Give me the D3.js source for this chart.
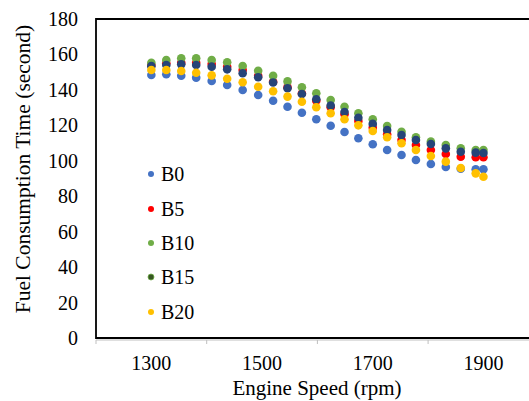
<!DOCTYPE html>
<html>
<head>
<meta charset="utf-8">
<script src="https://cdn.jsdelivr.net/npm/d3@7"></script>
<style>
  html, body { margin: 0; padding: 0; background: #fff; }
  svg { display: block; font-family: "Liberation Serif", "Times New Roman", serif; }
</style>
</head>
<body>
<div id="chart"></div>
<script>
// engine speed (rpm) for each measurement
const rpm = [1300, 1327, 1354, 1381, 1409, 1437, 1465, 1493, 1520, 1546, 1572, 1598,
             1624, 1649, 1674, 1700, 1726, 1752, 1778, 1805, 1832, 1859, 1886, 1900];

const seriesNames = ["B0", "B5", "B10", "B15", "B20"];

const b0 = [148.4, 148.8, 148.0, 146.9, 145.0, 142.8, 139.9, 137.1, 133.9, 130.5, 127.1, 123.4,
            119.8, 116.2, 112.7, 109.3, 106.1, 103.3, 100.4, 98.2, 96.5, 95.5, 95.2, 95.2];
const b5 = [154.0, 155.0, 155.3, 155.3, 154.6, 153.1, 151.2, 148.0, 144.6, 141.5, 138.0, 133.9,
            130.2, 126.2, 122.4, 118.7, 114.9, 111.7, 108.9, 106.1, 103.8, 102.3, 102.0, 102.0];
const b10 = [155.3, 156.9, 157.8, 157.8, 156.9, 155.6, 153.5, 150.8, 148.0, 144.8, 141.5, 138.1,
             134.3, 130.5, 126.8, 123.4, 119.6, 116.4, 113.3, 110.8, 108.9, 107.0, 106.1, 106.1];
const b15 = [153.4, 154.0, 154.4, 154.0, 153.1, 151.6, 149.4, 147.1, 144.2, 140.9, 137.7, 134.7,
             131.1, 127.5, 124.3, 120.8, 117.4, 114.5, 111.7, 109.5, 107.0, 105.1, 104.6, 104.4];
const b20 = [151.2, 151.2, 150.7, 149.7, 148.2, 146.3, 144.3, 141.8, 139.2, 136.2, 133.3, 130.2,
             126.8, 123.4, 120.0, 116.8, 113.3, 109.9, 106.1, 102.7, 99.5, 95.9, 92.9, 91.0];

const yTicks = [0, 20, 40, 60, 80, 100, 120, 140, 160, 180];
const xTickMarks = [1200, 1400, 1600, 1800, 2000];
const xTickLabels = [1300, 1500, 1700, 1900];

const allValues = [b0, b5, b10, b15, b20];
const pointColors = ["#4472C4", "#FF0000", "#70AD47", "#264478", "#FFC000"];
const legendColors = ["#4472C4", "#FF0000", "#70AD47", "#375623", "#FFC000"];

const W = 529, H = 401;
const svg = d3.select("#chart").append("svg")
    .attr("width", W)
    .attr("height", H);

const x = d3.scaleLinear().domain([1200, 2000]).range([96, 538.8]);
const y = d3.scaleLinear().domain([0, 180]).range([338, 19]);

// axis line + ticks below the plot frame
svg.append("line")
    .attr("x1", x(1200)).attr("x2", W)
    .attr("y1", y(0) + 2).attr("y2", y(0) + 2)
    .attr("stroke", "#bfbfbf").attr("stroke-width", 1);

svg.selectAll(".xtick")
    .data(xTickMarks)
    .enter().append("line")
    .attr("x1", d => x(d)).attr("x2", d => x(d))
    .attr("y1", y(0) + 2).attr("y2", y(0) + 6)
    .attr("stroke", "#bfbfbf").attr("stroke-width", 1);

// plot frame (left, top, bottom)
svg.append("path")
    .attr("d", `M${W},${y(180)} H${x(1200)} V${y(0)} H${W}`)
    .attr("fill", "none")
    .attr("stroke", "#000")
    .attr("stroke-width", 1.8);

// y tick labels
svg.selectAll(".ylab")
    .data(yTicks)
    .enter().append("text")
    .attr("x", 78)
    .attr("y", d => y(d) + 7)
    .attr("text-anchor", "end")
    .attr("font-size", "20px")
    .attr("fill", "#000")
    .text(d => d);

// x tick labels
svg.selectAll(".xlab")
    .data(xTickLabels)
    .enter().append("text")
    .attr("x", d => x(d))
    .attr("y", 370)
    .attr("text-anchor", "middle")
    .attr("font-size", "20px")
    .attr("fill", "#000")
    .text(d => d);

// axis titles
svg.append("text")
    .attr("x", 317)
    .attr("y", 395)
    .attr("text-anchor", "middle")
    .attr("font-size", "21px")
    .attr("fill", "#000")
    .text("Engine Speed (rpm)");

svg.append("text")
    .attr("transform", "translate(30,169) rotate(-90)")
    .attr("text-anchor", "middle")
    .attr("font-size", "21.5px")
    .attr("fill", "#000")
    .text("Fuel Consumption Time (second)");

// points, drawn in series order
allValues.forEach((vals, i) => {
    svg.append("g")
        .selectAll("circle")
        .data(vals)
        .enter().append("circle")
        .attr("cx", (d, j) => x(rpm[j]))
        .attr("cy", d => y(d))
        .attr("r", 4.3)
        .attr("fill", pointColors[i]);
});

// legend
const legendY = [174, 209, 243, 277, 312];
const legend = svg.append("g");
seriesNames.forEach((name, i) => {
    legend.append("circle")
        .attr("cx", 151)
        .attr("cy", legendY[i])
        .attr("r", 3)
        .attr("fill", legendColors[i])
        .attr("stroke", i === 3 ? "#70AD47" : "none")
        .attr("stroke-width", 0.8);
    legend.append("text")
        .attr("x", 161)
        .attr("y", legendY[i] + 7)
        .attr("font-size", "20px")
        .attr("fill", "#000")
        .text(name);
});
</script>
</body>
</html>
